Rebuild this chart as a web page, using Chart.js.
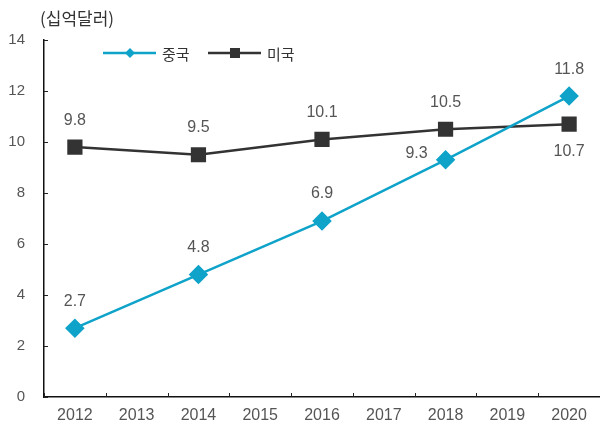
<!DOCTYPE html>
<html>
<head>
<meta charset="utf-8">
<script src="https://cdn.jsdelivr.net/npm/chart.js@4"></script>
<style>
html,body{margin:0;padding:0;background:#fff;}
#wrap{width:600px;height:426px;position:relative;}
</style>
</head>
<body>
<div id="wrap"><canvas id="c" width="600" height="426"></canvas></div>
<script>
const years = ['2012','2013','2014','2015','2016','2017','2018','2019','2020'];
const chinaValues = [2.7, null, 4.8, null, 6.9, null, 9.3, null, 11.8];
const usaValues = [9.8, null, 9.5, null, 10.1, null, 10.5, null, 10.7];
const seriesNames = ['중국', '미국'];
const unitLabel = '(십억달러)';
const yTicks = [0, 2, 4, 6, 8, 10, 12, 14];

const FONT = "'Liberation Sans', 'Noto Sans CJK KR', sans-serif";
const KFONT = "'Noto Sans CJK KR', 'Liberation Sans', sans-serif";
const CHINA = '#0fa3c9';
const USA = '#333333';

const extras = {
  id: 'extras',
  afterDraw(chart) {
    const ctx = chart.ctx;
    const xs = chart.scales.x, ys = chart.scales.y;
    const area = chart.chartArea;
    ctx.save();
    // inward tick marks
    ctx.strokeStyle = '#222';
    ctx.lineWidth = 1;
    for (let i = 0; i <= years.length; i++) {
      const x = Math.round(xs.getPixelForValue(i - 0.5)) + 0.5;
      ctx.beginPath(); ctx.moveTo(x, area.bottom); ctx.lineTo(x, area.bottom - 4); ctx.stroke();
    }
    yTicks.forEach(v => {
      const y = Math.round(ys.getPixelForValue(v)) + 0.5;
      ctx.beginPath(); ctx.moveTo(area.left, y); ctx.lineTo(area.left + 4, y); ctx.stroke();
    });
    // unit label
    ctx.fillStyle = '#333';
    ctx.font = '17px ' + KFONT;
    ctx.textAlign = 'left';
    ctx.textBaseline = 'middle';
    ctx.fillText(unitLabel, area.left - 4, 19);
    // data labels
    ctx.font = '16px ' + FONT;
    ctx.fillStyle = '#555';
    ctx.textAlign = 'center';
    chart.data.datasets.forEach((ds, di) => {
      const meta = chart.getDatasetMeta(di);
      const pos = ds.labelPos || [];
      let k = 0;
      meta.data.forEach((pt, i) => {
        const v = ds.data[i];
        if (v === null || v === undefined) return;
        let dx = 0, dy = -27;
        const p = pos[k++] || 'top';
        if (p === 'bottom') dy = 27;
        if (p === 'left') { dx = -29; dy = -6; }
        ctx.fillText(v.toFixed(1), pt.x + dx, pt.y + dy);
      });
    });
    // legend
    const ly = 53;
    const items = [
      {x: 103, ds: chart.data.datasets[0]},
      {x: 208, ds: chart.data.datasets[1]}
    ];
    items.forEach(it => {
      const ds = it.ds;
      ctx.strokeStyle = ds.borderColor;
      ctx.lineWidth = 2.5;
      ctx.beginPath(); ctx.moveTo(it.x, ly); ctx.lineTo(it.x + 53, ly); ctx.stroke();
      const cx = it.x + 27;
      ctx.fillStyle = ds.borderColor;
      if (ds.pointStyle === 'rectRot') {
        ctx.beginPath(); ctx.moveTo(cx, ly - 5); ctx.lineTo(cx + 5, ly); ctx.lineTo(cx, ly + 5); ctx.lineTo(cx - 5, ly); ctx.closePath(); ctx.fill();
      } else {
        ctx.fillRect(cx - 5, ly - 5, 10, 10);
      }
      ctx.fillStyle = '#333';
      ctx.font = '15px ' + KFONT;
      ctx.textAlign = 'left';
      ctx.fillText(ds.label, it.x + 59, ly + 1);
    });
    ctx.restore();
  }
};

new Chart(document.getElementById('c'), {
  type: 'line',
  data: {
    labels: years,
    datasets: [
      {
        label: seriesNames[0], data: chinaValues, borderColor: CHINA, backgroundColor: CHINA,
        borderWidth: 2.5, pointStyle: 'rectRot', pointRadius: 8, pointHoverRadius: 8,
        spanGaps: true, tension: 0, labelPos: ['top','top','top','left','top']
      },
      {
        label: seriesNames[1], data: usaValues, borderColor: USA, backgroundColor: USA,
        borderWidth: 2.5, pointStyle: 'rect', pointRadius: 9, pointHoverRadius: 9,
        spanGaps: true, tension: 0, labelPos: ['top','top','top','top','bottom']
      }
    ]
  },
  options: {
    responsive: false,
    animation: false,
    layout: { autoPadding: false, padding: { top: 40, right: 0, left: 0, bottom: 0 } },
    plugins: { legend: { display: false }, tooltip: { enabled: false }, title: { display: false } },
    scales: {
      x: {
        type: 'category',
        offset: true,
        grid: { display: false, drawTicks: false },
        border: { display: true, color: '#111', width: 1.5 },
        ticks: { color: '#555', font: { family: FONT, size: 16 }, padding: 9, maxRotation: 0, autoSkip: false },
        afterFit(s) { s.height = 29; s.paddingRight = 0; s.paddingLeft = 0; }
      },
      y: {
        min: 0, max: 14,
        grid: { display: false, drawTicks: false },
        border: { display: true, color: '#111', width: 1.5 },
        ticks: { stepSize: 2, color: '#555', font: { family: FONT, size: 15 }, padding: 19 },
        afterFit(s) { s.width = 44; s.paddingTop = 0; s.paddingBottom = 0; }
      }
    }
  },
  plugins: [extras]
});
</script>
</body>
</html>
